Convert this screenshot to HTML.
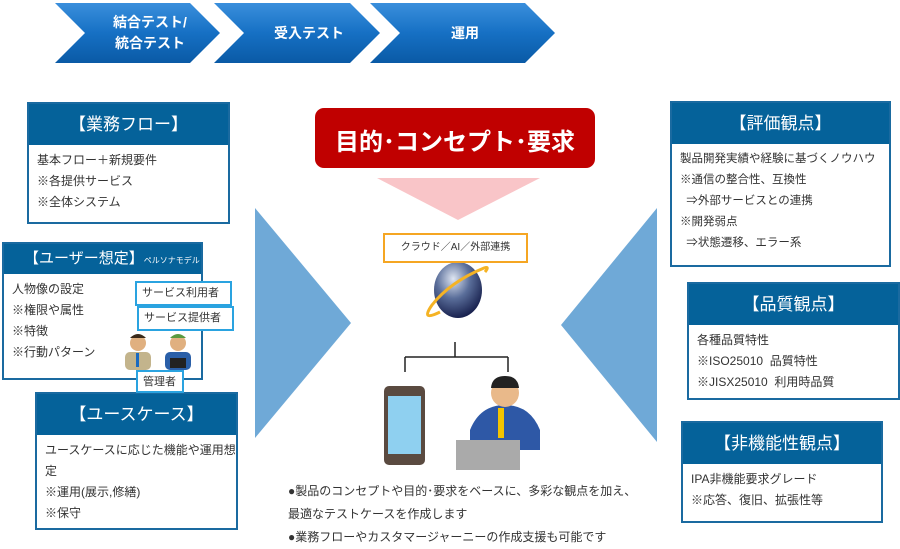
<!DOCTYPE html>
<html><head><meta charset="utf-8"><style>
body{margin:0;width:900px;height:545px;position:relative;background:#fff;overflow:hidden;font-family:"Liberation Sans","Noto Sans CJK JP",sans-serif;color:#333}
.a{position:absolute}
.box{position:absolute;border:2px solid #1a6aa0;background:#fff;box-sizing:border-box}
.hd{background:#05629a;color:#fff;text-align:center;font-size:17px;line-height:41px;height:41px}
.bd{font-size:12px;line-height:21px;padding:5px 0 0 8px;white-space:nowrap}
.lbl{position:absolute;border:2px solid #2aa3e0;background:#fff;font-size:11px;line-height:20px;padding:0 5px;box-sizing:border-box;white-space:nowrap}
</style></head><body>
<svg class="a" style="left:0;top:0" width="900" height="545">
<defs>
<linearGradient id="g" x1="0" y1="0" x2="0" y2="1"><stop offset="0" stop-color="#3a8fdc"/><stop offset="0.5" stop-color="#1670c4"/><stop offset="1" stop-color="#0a5aa6"/></linearGradient>
<radialGradient id="gl" cx="0.4" cy="0.3" r="0.7"><stop offset="0" stop-color="#dfe6f2"/><stop offset="0.5" stop-color="#5a6e9a"/><stop offset="1" stop-color="#1a2350"/></radialGradient>
</defs>
<polygon points="55,3 190,3 220,33 190,63 55,63 85,33" fill="url(#g)"/>
<polygon points="214,3 350,3 380,33 350,63 214,63 244,33" fill="url(#g)"/>
<polygon points="370,3 525,3 555,33 525,63 370,63 400,33" fill="url(#g)"/>
<polygon points="255,208 351,323 255,438" fill="#6fa9d7"/>
<polygon points="657,208 561,325 657,442" fill="#6fa9d7"/>
<polygon points="377,178 540,178 458,220" fill="#f9c5c8"/>
<rect x="315" y="108" width="280" height="60" rx="9" fill="#c00000"/>
<ellipse cx="458" cy="290" rx="24" ry="28" fill="url(#gl)"/>
<path d="M440 312 Q420 322 432 305 Q450 282 484 268 Q490 266 485 272" stroke="#f5b324" stroke-width="3" fill="none"/>
<path d="M455 342 V357 M405 357 H508 M405 357 V372 M508 357 V372" stroke="#222" stroke-width="1.5" fill="none"/>
<rect x="384" y="386" width="41" height="79" rx="5" fill="#5a4a40"/>
<rect x="388" y="396" width="33" height="58" fill="#8fd0f0"/>
<path d="M470 430 Q480 405 505 405 Q530 405 540 430 L540 450 L470 450Z" fill="#2e58a6"/>
<circle cx="505" cy="393" r="14" fill="#e9b98a"/>
<path d="M491 388 Q492 376 505 376 Q518 376 519 388Z" fill="#222"/>
<rect x="498" y="408" width="6" height="30" fill="#f3c400"/>
<rect x="456" y="440" width="64" height="30" fill="#aaa"/>
</svg>
<div class="a" style="left:85px;top:12px;width:130px;text-align:center;color:#fff;font-weight:bold;font-size:14px;line-height:21px">結合テスト/<br>統合テスト</div>
<div class="a" style="left:244px;top:23px;width:130px;text-align:center;color:#fff;font-weight:bold;font-size:14px">受入テスト</div>
<div class="a" style="left:400px;top:23px;width:130px;text-align:center;color:#fff;font-weight:bold;font-size:14px">運用</div>
<div class="a" style="left:315px;top:122px;width:280px;text-align:center;color:#fff;font-weight:bold;font-size:24px">目的･コンセプト･要求</div>
<div class="a" style="left:383px;top:233px;width:145px;height:30px;border:2px solid #f5a623;box-sizing:border-box;background:#fff;font-size:10px;text-align:center;line-height:26px">クラウド／AI／外部連携</div>

<div class="box" style="left:27px;top:102px;width:203px;height:122px"><div class="hd">【業務フロー】</div><div class="bd">基本フロー＋新規要件<br>※各提供サービス<br>※全体システム</div></div>
<div class="box" style="left:2px;top:242px;width:201px;height:138px"><div class="hd" style="height:30px;line-height:30px;text-align:left;padding-left:20px;font-size:15px;white-space:nowrap">【ユーザー想定】<span style="font-size:8px">ペルソナモデル</span></div><div class="bd">人物像の設定<br>※権限や属性<br>※特徴<br>※行動パターン</div></div>
<svg class="a" style="left:120px;top:330px" width="80" height="45">
<circle cx="18" cy="13" r="8" fill="#e0b080"/><path d="M10 8 Q18 0 26 8Z" fill="#3a2a1a"/><rect x="5" y="22" width="26" height="18" rx="5" fill="#c3b48c"/><rect x="16" y="23" width="3" height="14" fill="#1a6ac0"/>
<circle cx="58" cy="13" r="8" fill="#e0b080"/><path d="M50 8 Q58 0 66 8Z" fill="#5a9a40"/><rect x="45" y="22" width="26" height="18" rx="5" fill="#2a5fa8"/><rect x="50" y="28" width="16" height="10" fill="#222"/>
</svg>
<div class="box" style="left:35px;top:392px;width:203px;height:138px"><div class="hd">【ユースケース】</div><div class="bd">ユースケースに応じた機能や運用想<br>定<br>※運用(展示,修繕)<br>※保守</div></div>
<div class="lbl" style="left:135px;top:281px;width:97px;height:25px">サービス利用者</div>
<div class="lbl" style="left:137px;top:306px;width:97px;height:25px">サービス提供者</div>
<div class="lbl" style="left:136px;top:370px;width:48px;height:23px">管理者</div>

<div class="box" style="left:670px;top:101px;width:221px;height:166px"><div class="hd">【評価観点】</div><div class="bd" style="font-size:11.5px">製品開発実績や経験に基づくノウハウ<br>※通信の整合性、互換性<br>&nbsp;&nbsp;⇒外部サービスとの連携<br>※開発弱点<br>&nbsp;&nbsp;⇒状態遷移、エラー系</div></div>
<div class="box" style="left:687px;top:282px;width:213px;height:118px"><div class="hd">【品質観点】</div><div class="bd">各種品質特性<br>※ISO25010&nbsp;&nbsp;品質特性<br>※JISX25010&nbsp;&nbsp;利用時品質</div></div>
<div class="box" style="left:681px;top:421px;width:202px;height:102px"><div class="hd">【非機能性観点】</div><div class="bd">IPA非機能要求グレード<br>※応答、復旧、拡張性等</div></div>

<div class="a" style="left:288px;top:480px;font-size:12px;line-height:23px;white-space:nowrap">●製品のコンセプトや目的･要求をベースに、多彩な観点を加え、<br>最適なテストケースを作成します<br>●業務フローやカスタマージャーニーの作成支援も可能です</div>
</body></html>
